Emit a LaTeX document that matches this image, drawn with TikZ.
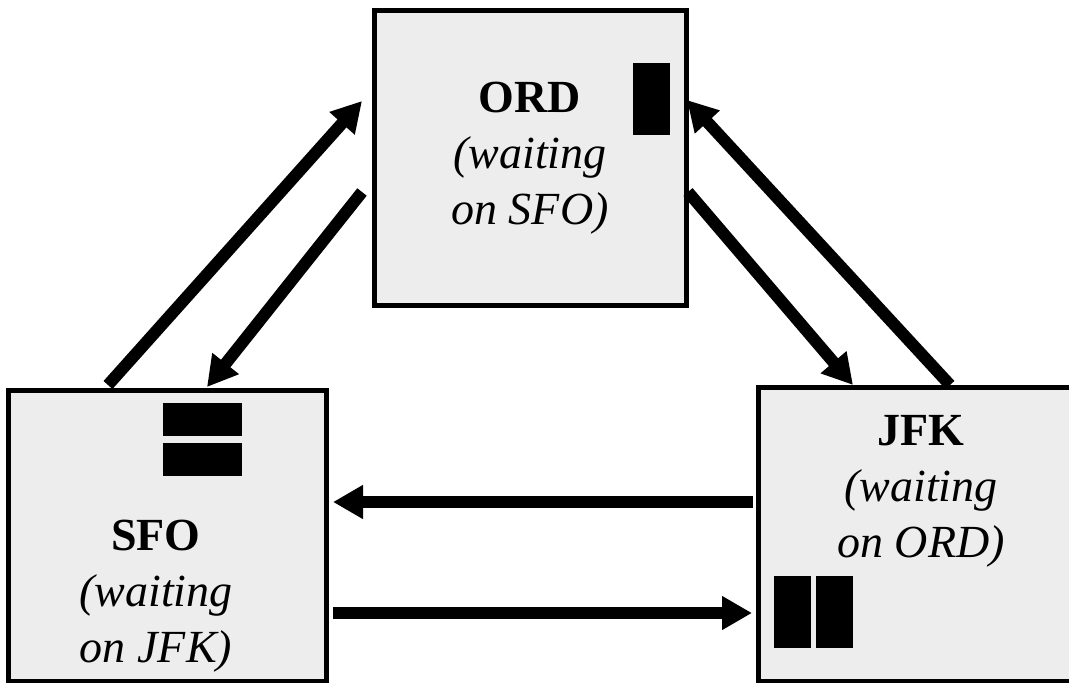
\documentclass[tikz,border=0pt]{standalone}
\usepackage{fontspec}
\setmainfont{Liberation Serif}
\usetikzlibrary{arrows.meta,calc}
\begin{document}
\begin{tikzpicture}[x=1pt,y=-1pt,
  airport/.style={draw=black,line width=5pt,fill=black!7,rectangle,outer sep=0pt,inner sep=0pt},
  label/.style={align=center,inner sep=0pt,font=\fontsize{46}{56}\selectfont},
  flow/.style={line width=12pt,-{Triangle[length=30pt,width=32pt]}},
  bar/.style={fill=black}]
\clip (0,0) rectangle (1069,683);
\fill[white] (0,0) rectangle (1069,683);
% boxes
\node[airport,minimum width=312pt,minimum height=295pt] (ORD) at (530,157.5) {};
\node[airport,minimum width=318pt,minimum height=291pt] (SFO) at (167,535.5) {};
\node[airport,minimum width=332pt,minimum height=294pt] (JFK) at (924,534) {};
% labels
\node[label] (ORDt) at (530,158) {\textbf{ORD}\\\textit{(waiting}\\\textit{on SFO)}};
\node[label] (SFOt) at (156,596) {\textbf{SFO}\\\textit{(waiting}\\\textit{on JFK)}};
\node[label] (JFKt) at (921,491) {\textbf{JFK}\\\textit{(waiting}\\\textit{on ORD)}};
% lock bars
\fill[bar] (633,63) rectangle (670,135);
\fill[bar] (163,403) rectangle (242,436);
\fill[bar] (163,443) rectangle (242,476);
\fill[bar] (774,576) rectangle (811,648);
\fill[bar] (816,576) rectangle (853,648);
% connector end points
\coordinate (a1s) at ($(SFO.north west)+(100,-5)$);
\coordinate (a1e) at ($(ORD.north west)+(-12,91)$);
\coordinate (a2s) at ($(ORD.north west)+(-12,182)$);
\coordinate (a2e) at ($(SFO.north west)+(199,-3)$);
\coordinate (a3s) at ($(ORD.north east)+(2,182)$);
\coordinate (a3e) at ($(JFK.north west)+(95,-2)$);
\coordinate (a4s) at ($(JFK.north west)+(192,-2)$);
\coordinate (a4e) at ($(ORD.north east)+(1,90)$);
\coordinate (a5s) at ($(JFK.north west)+(-5,115)$);
\coordinate (a5e) at ($(SFO.north east)+(7,112)$);
\coordinate (a6s) at ($(SFO.north east)+(7,223)$);
\coordinate (a6e) at ($(JFK.north west)+(-6,226)$);
% connectors
\draw[flow] (a1s) -- (a1e);
\draw[flow] (a2s) -- (a2e);
\draw[flow] (a3s) -- (a3e);
\draw[flow] (a4s) -- (a4e);
\draw[flow] (a5s) -- (a5e);
\draw[flow] (a6s) -- (a6e);
\end{tikzpicture}
\end{document}
